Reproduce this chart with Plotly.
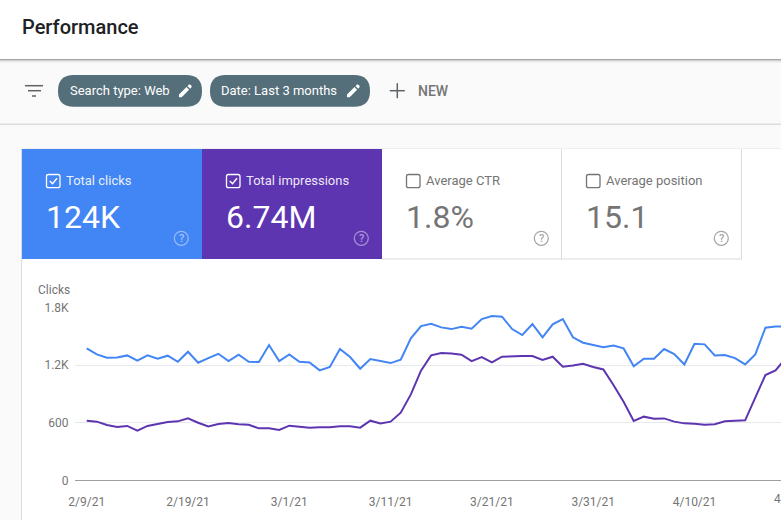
import pandas as pd
import plotly.graph_objects as go

W, H = 781, 520

# daily values, starting 2/9/21
start_date = '2021-02-09'
clicks = [1374, 1312, 1277, 1280, 1301, 1246, 1301, 1266, 1298, 1235,
          1339, 1225, 1273, 1318, 1242, 1308, 1235, 1232, 1409, 1242,
          1312, 1235, 1228, 1145, 1180, 1367, 1284, 1162, 1263, 1242,
          1221, 1256, 1478, 1607, 1631, 1593, 1575, 1600, 1579, 1679,
          1711, 1704, 1575, 1513, 1627, 1489, 1624, 1679, 1489, 1433,
          1412, 1385, 1405, 1374, 1187, 1266, 1266, 1367, 1315, 1207,
          1423, 1416, 1301, 1305, 1273, 1207, 1312, 1589, 1603, 1603]
impressions = [621, 611, 576, 555, 566, 517, 566, 583, 607, 614,
               645, 600, 562, 586, 597, 583, 579, 541, 541, 524,
               569, 559, 548, 552, 553, 562, 562, 548, 621, 593,
               611, 704, 895, 1142, 1301, 1326, 1322, 1308, 1242, 1284,
               1228, 1287, 1294, 1294, 1294, 1253, 1287, 1183, 1197, 1214,
               1180, 1155, 992, 819, 618, 663, 642, 645, 611, 593,
               590, 579, 583, 614, 621, 625, 861, 1097, 1145, 1270]

y_ticks = [0, 600, 1200, 1800]
y_labels = ['0', '600', '1.2K', '1.8K']
x_ticks = ['2021-02-09', '2021-02-19', '2021-03-01', '2021-03-11', '2021-03-21', '2021-03-31', '2021-04-10']
x_labels = ['2/9/21', '2/19/21', '3/1/21', '3/11/21', '3/21/21', '3/31/21', '4/10/21']
last_tick = '4/20/21'

tile_titles = ['Total clicks', 'Total impressions', 'Average CTR', 'Average position']
tile_values = ['124K', '6.74M', '1.8%', '15.1']

BLUE = '#4285f4'
PURPLE = '#5e35b1'
CHIP = '#546e7a'
GREY = '#757575'
BORDER = '#dadce0'
ROBOTO = 'Roboto, sans-serif'

# chart placement in page pixels
PLOT_LEFT = 75
PLOT_TOP = 307.5
PLOT_BOTTOM = 480.3
FIRST_X = 86.7
PX_PER_DAY = 10.13


def fx(x):
    return x / W


def fy(y):
    return 1 - y / H


def rect(x0, y0, x1, y1, fill, line=None):
    return dict(type='rect', xref='paper', yref='paper', x0=fx(x0), x1=fx(x1), y0=fy(y0), y1=fy(y1),
                fillcolor=fill, line=dict(color=line or fill, width=1 if line else 0), layer='below')


def line(x0, y0, x1, y1, color, width=1):
    return dict(type='line', xref='paper', yref='paper', x0=fx(x0), x1=fx(x1), y0=fy(y0), y1=fy(y1),
                line=dict(color=color, width=width), layer='below')


def path(points, color=None, stroke=None, width=0):
    # points are page pixels, letters pass straight through to the svg path
    parts = []
    for p in points:
        if isinstance(p, str):
            parts.append(p)
        else:
            parts.append(f'{fx(p[0]):.5f},{fy(p[1]):.5f}')
    return dict(type='path', xref='paper', yref='paper', path=' '.join(parts),
                fillcolor=color or 'rgba(0,0,0,0)', line=dict(color=stroke or 'rgba(0,0,0,0)', width=width),
                layer='below')


def round_box(x0, y0, x1, y1, r, color=None, stroke=None, width=0):
    return path(['M', (x0 + r, y0), 'L', (x1 - r, y0), 'Q', (x1, y0), (x1, y0 + r),
                 'L', (x1, y1 - r), 'Q', (x1, y1), (x1 - r, y1), 'L', (x0 + r, y1),
                 'Q', (x0, y1), (x0, y1 - r), 'L', (x0, y0 + r), 'Q', (x0, y0), (x0 + r, y0), 'Z'],
                color, stroke, width)


def pencil(x, y):
    # x, y is the middle of the icon
    return path(['M', (x - 6.5, y + 3.8), 'L', (x - 6.5, y + 6.5), 'L', (x - 3.8, y + 6.5),
                 'L', (x + 3.6, y - 1), 'L', (x + 1, y - 3.6), 'Z',
                 'M', (x + 2, y - 4.6), 'L', (x + 4.6, y - 2), 'L', (x + 6.2, y - 3.6),
                 'L', (x + 6.2, y - 4.6), 'L', (x + 4.6, y - 6.2), 'L', (x + 3.6, y - 6.2), 'Z'], 'white')


def text(x, y, s, size, color, anchor='left', weight=400):
    return dict(xref='paper', yref='paper', x=fx(x), y=fy(y), text=s, showarrow=False, xanchor=anchor,
                yanchor='middle', borderpad=0, borderwidth=0,
                font=dict(family=ROBOTO, size=size, color=color, weight=weight))


shapes = [
    # page bands
    rect(0, 0, W, 59, 'white'),
    rect(0, 59, W, 60, 'rgba(0,0,0,0.34)'),
    rect(0, 60, W, 61, 'rgba(0,0,0,0.16)'),
    rect(0, 61, W, 62, 'rgba(0,0,0,0.07)'),
    rect(0, 62, W, 63, 'rgba(0,0,0,0.03)'),
    rect(0, 123.5, W, 125, BORDER),
    # card
    rect(22, 149, W, H, 'white'),
    rect(21, 149, 22, H, BORDER),
    rect(22, 148, W, 149, '#eeeeee'),
    # tiles
    rect(22, 149, 202, 259, BLUE),
    rect(202, 149, 382, 259, PURPLE),
    rect(382, 258.5, 742, 259.5, BORDER),
    rect(561, 149, 562, 259, BORDER),
    rect(741, 149, 742, 259, BORDER),
    # filter icon
    line(25, 85.7, 43, 85.7, '#5f6368', 1.5),
    line(28, 90.7, 41, 90.7, '#5f6368', 1.5),
    line(32, 96, 36, 96, '#5f6368', 1.5),
    # chips
    round_box(58, 75, 202, 106.7, 15.8, CHIP),
    round_box(210, 75, 370, 106.7, 15.8, CHIP),
    pencil(185.5, 90.7),
    pencil(353.5, 90.7),
    # plus
    line(389.8, 90.7, 404.8, 90.7, '#5f6368', 1.5),
    line(397.3, 83.2, 397.3, 98.2, '#5f6368', 1.5),
]

annotations = [
    text(22, 27, 'Performance', 20, '#202124', weight=500),
    text(70, 90.8, 'Search type: Web', 13, 'white'),
    text(221, 90.8, 'Date: Last 3 months', 13, 'white'),
    text(418, 90.8, 'NEW', 14, GREY, weight=500),
    text(38, 289.5, 'Clicks', 12, GREY),
]

for i in range(4):
    x = 22 + 180 * i
    on = i < 2
    color = 'white' if on else GREY
    shapes.append(round_box(x + 24.5, 174.5, x + 38, 187.7, 2, None, color, 1.3))
    if on:
        shapes.append(path(['M', (x + 27.8, 181), 'L', (x + 30.5, 183.8), 'L', (x + 35, 178.2)],
                           None, 'white', 1.4))
    shapes.append(dict(type='circle', xref='paper', yref='paper', x0=fx(x + 152.3), x1=fx(x + 166.3),
                       y0=fy(231.3), y1=fy(245.3), fillcolor='rgba(0,0,0,0)', layer='below',
                       line=dict(color='rgba(255,255,255,0.45)' if on else '#a6a6a6', width=1.3)))
    annotations.append(text(x + 43.8, 180.3, tile_titles[i], 13, 'rgba(255,255,255,0.9)' if on else GREY))
    annotations.append(text(x + 24, 216.5, tile_values[i], 32, color))
    annotations.append(text(x + 159.3, 238.5, '?', 11, 'rgba(255,255,255,0.5)' if on else '#a6a6a6', 'center', 500))

# the next tick sits past the page edge so it only shows partly, same as the reference
annotations.append(text(FIRST_X + 70 * PX_PER_DAY, 499, last_tick, 12, GREY, 'center'))

first = pd.Timestamp(start_date)
dates = pd.date_range(first, periods=len(clicks))
range_left = first + pd.Timedelta(days=(PLOT_LEFT - FIRST_X) / PX_PER_DAY)
range_right = first + pd.Timedelta(days=(W - FIRST_X) / PX_PER_DAY)

fig = go.Figure()
fig.add_trace(go.Scatter(x=dates, y=clicks, mode='lines', name='Clicks', line=dict(color=BLUE, width=2)))
fig.add_trace(go.Scatter(x=dates, y=impressions, mode='lines', name='Impressions',
                         line=dict(color=PURPLE, width=2)))

fig.update_layout(width=W, height=H, margin=dict(l=0, r=0, t=0, b=0, autoexpand=False), showlegend=False,
                  paper_bgcolor='#fafafa', plot_bgcolor='white', font=dict(family=ROBOTO, size=12, color=GREY),
                  shapes=shapes, annotations=annotations,
                  xaxis=dict(type='date', domain=[fx(PLOT_LEFT), 1], range=[range_left, range_right],
                             tickvals=x_ticks, ticktext=x_labels, showgrid=False, zeroline=False,
                             showline=True, linecolor='#9e9e9e', linewidth=1, ticks='outside', ticklen=10,
                             tickcolor='rgba(0,0,0,0)', tickfont=dict(size=12, color=GREY), anchor='y'),
                  yaxis=dict(domain=[fy(PLOT_BOTTOM), fy(PLOT_TOP)], range=[0, 1800], tickvals=y_ticks,
                             ticktext=y_labels, showgrid=True, gridcolor='#e8eaed', gridwidth=1, zeroline=False,
                             showline=False, tickfont=dict(size=12, color=GREY), ticks='outside', ticklen=3,
                             tickcolor='rgba(0,0,0,0)', anchor='x'))

# page default margin would push the figure 8px down and right
fig.write_html("out.html", config={'displayModeBar': False},
               post_script="document.body.style.margin='0';document.body.style.overflow='hidden';")
